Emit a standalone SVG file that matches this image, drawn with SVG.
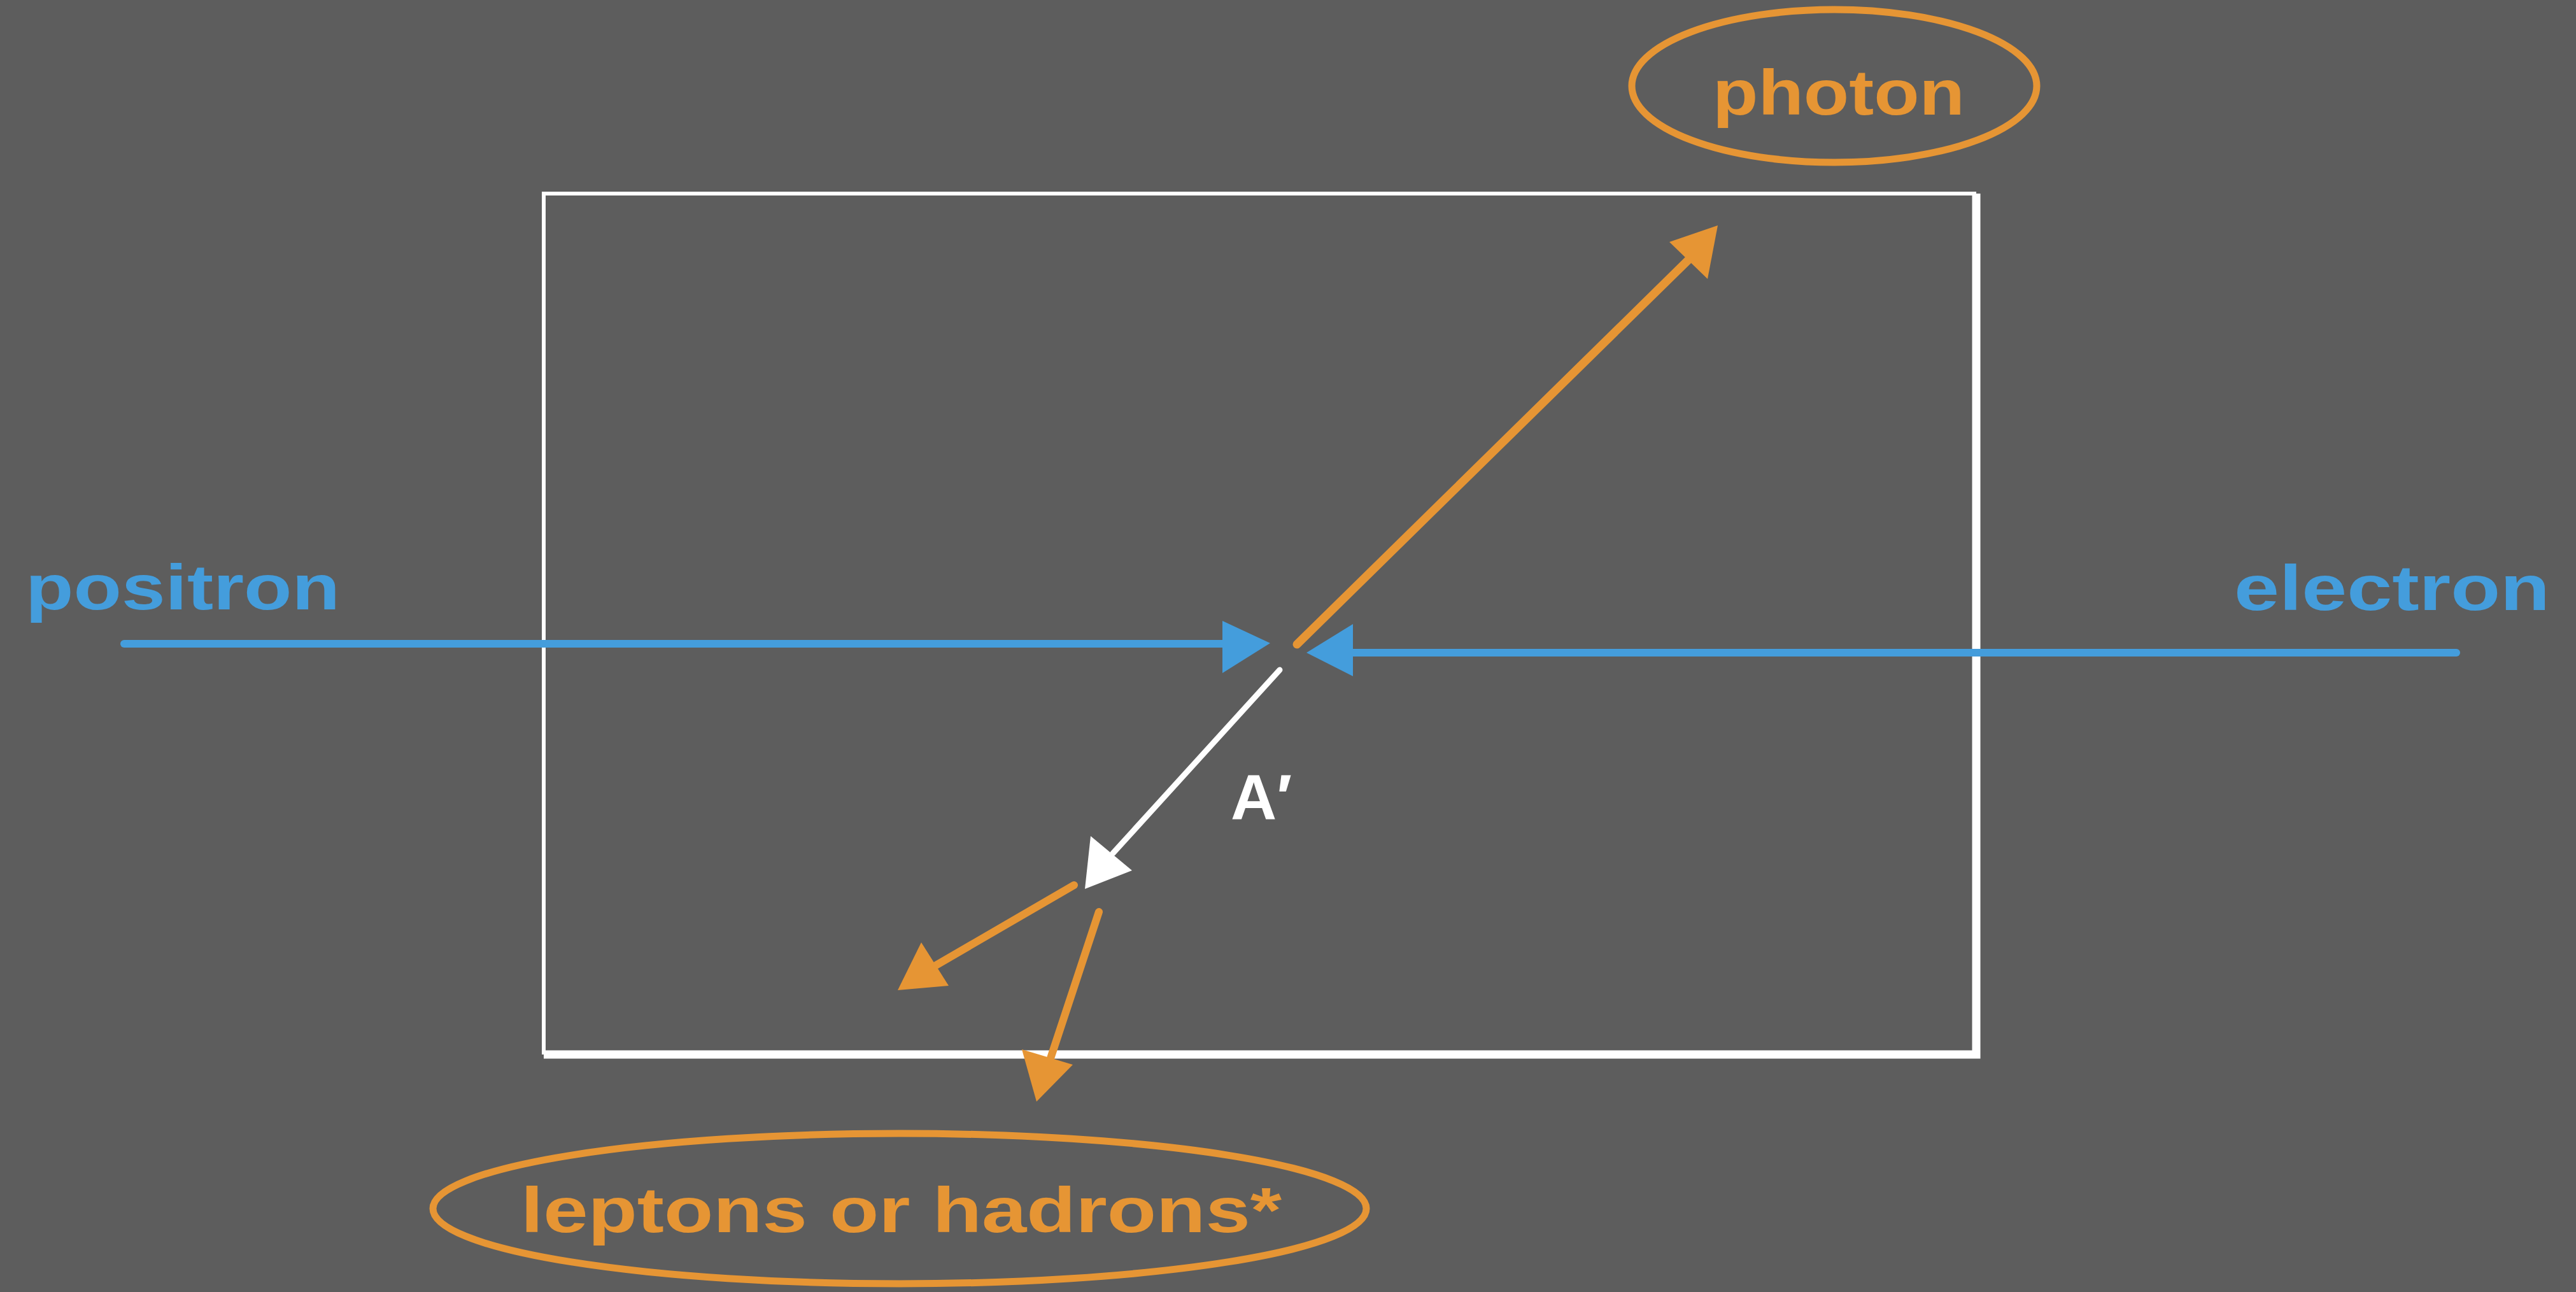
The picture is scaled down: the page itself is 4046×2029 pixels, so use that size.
<svg xmlns="http://www.w3.org/2000/svg" width="4046" height="2029" viewBox="0 0 4046 2029">
<style>
.lbl{font-family:"Liberation Sans","DejaVu Sans",sans-serif;font-size:100px;font-weight:bold}
.blue{fill:#449ddc}
.orange{fill:#e69534}
.white{fill:#ffffff}
.ls{fill:none;stroke-linecap:round}
</style>
<rect width="4046" height="2029" fill="#5d5d5d"/>
<g id="frame">
<path d="M854,1656 L854,304 L3104,304" fill="none" stroke="#ffffff" stroke-width="6"/>
<path d="M3104,304 L3104,1656 L854,1656" fill="none" stroke="#ffffff" stroke-width="13"/>
</g>
<g id="connectors">
<line class="ls" x1="195" y1="1011" x2="1922" y2="1011" stroke="#449ddc" stroke-width="12"/>
<polygon class="blue" points="1920,975 1995,1010 1920,1057"/>
<line class="ls" x1="3858" y1="1025" x2="2122" y2="1025" stroke="#449ddc" stroke-width="12"/>
<polygon class="blue" points="2125,980 2052,1025 2125,1062"/>
<line class="ls" x1="2037" y1="1012" x2="2652" y2="408" stroke="#e69534" stroke-width="13"/>
<polygon class="orange" points="2622,380 2698,354 2682,438"/>
<line class="ls" x1="2010" y1="1052" x2="1748" y2="1340" stroke="#ffffff" stroke-width="9"/>
<polygon class="white" points="1713,1313 1704,1396 1778,1367"/>
<line class="ls" x1="1687" y1="1390" x2="1470" y2="1516" stroke="#e69534" stroke-width="12"/>
<polygon class="orange" points="1447,1480 1410,1555 1490,1548"/>
<line class="ls" x1="1726" y1="1432" x2="1650" y2="1662" stroke="#e69534" stroke-width="12"/>
<polygon class="orange" points="1605,1648 1628,1730 1685,1672"/>
</g>
<g id="positron">
<text class="lbl blue" x="40" y="957" textLength="494" lengthAdjust="spacingAndGlyphs">positron</text>
</g>
<g id="electron">
<text class="lbl blue" x="3509" y="958" textLength="496" lengthAdjust="spacingAndGlyphs">electron</text>
</g>
<g id="photon">
<ellipse cx="2881" cy="135" rx="318" ry="120" fill="none" stroke="#e69534" stroke-width="11"/>
<text class="lbl orange" x="2690" y="180" textLength="396" lengthAdjust="spacingAndGlyphs">photon</text>
</g>
<g id="aprime">
<text class="lbl white" x="1933" y="1287" font-size="110">A′</text>
</g>
<g id="products">
<ellipse cx="1413" cy="1898" rx="733" ry="118" fill="none" stroke="#e69534" stroke-width="11"/>
<text class="lbl orange" x="818" y="1935" textLength="1195" lengthAdjust="spacingAndGlyphs">leptons or hadrons*</text>
</g>
</svg>
